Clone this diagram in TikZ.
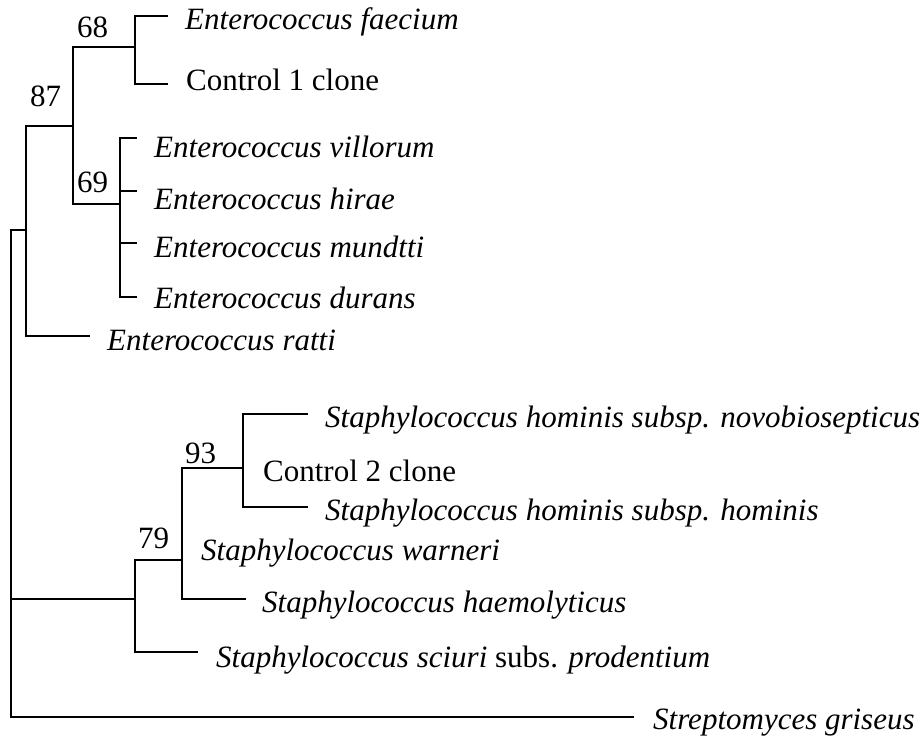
\documentclass[tikz,border=0pt]{standalone}
\usepackage{fontspec}
\setmainfont{Liberation Serif}
\begin{document}
\begin{tikzpicture}[x=1pt,y=-1pt,
  br/.style={line width=2pt,line join=miter,line cap=rect},
  lbl/.style={anchor=base west,inner sep=0pt,font=\fontsize{31}{36}\selectfont},
  bs/.style={anchor=base west,inner sep=0pt,font=\fontsize{31}{36}\selectfont}]
\useasboundingbox (0,0) rectangle (924,738);
% tree coordinates
\coordinate (R) at (11,230);
\coordinate (Rs) at (11,599);
\coordinate (Rb) at (11,717);
\coordinate (A) at (26,230);
\coordinate (Atop) at (26,126);
\coordinate (N6869) at (73,126);
\coordinate (N69b) at (73,204);
\coordinate (N68) at (135,47);
\coordinate (N69) at (120,204);
\coordinate (Lfae) at (167,16);
\coordinate (Lc1) at (167,84);
\coordinate (Lvil) at (136,138);
\coordinate (Lhir) at (136,191);
\coordinate (Lmun) at (136,243);
\coordinate (Ldur) at (136,297);
\coordinate (Lrat) at (89,336);
\coordinate (N79) at (135,599);
\coordinate (N182) at (182,560);
\coordinate (N93) at (243,468);
\coordinate (Lnov) at (307,414);
\coordinate (Lhom) at (307,507);
\coordinate (Lhae) at (245,599);
\coordinate (Lsci) at (197,652);
\coordinate (Lstr) at (633,717);
% branches
\draw[br] (Lstr) -- (Rb) -- (R) -- (A);
\draw[br] (Lrat) -| (Atop) -- (N6869);
\draw[br] (N68) -| (N69b) -- (N69);
\draw[br] (Lfae) -| (N68) |- (Lc1);
\draw[br] (Lvil) -| (N69) |- (Ldur);
\draw[br] (Lhir) -- (Lhir -| N69);
\draw[br] (Lmun) -- (Lmun -| N69);
\draw[br] (Rs) -- (N79);
\draw[br] (N182) -| (N79) |- (Lsci);
\draw[br] (N93) -| (N182) |- (Lhae);
\draw[br] (Lnov) -| (N93) |- (Lhom);
% bootstrap values
\node[bs] (b68) at (77,38) {68};
\node[bs] (b87) at (30,107) {87};
\node[bs] (b69) at (77,193) {69};
\node[bs] (b93) at (185,463) {93};
\node[bs] (b79) at (138,548) {79};
% taxa
\node[lbl] (tfae) at (185,30) {\textit{Enterococcus faecium}};
\node[lbl] (tc1) at (186,91) {Control 1 clone};
\node[lbl] (tvil) at (154,158) {\textit{Enterococcus villorum}};
\node[lbl] (thir) at (154,210) {\textit{Enterococcus hirae}};
\node[lbl] (tmun) at (154,258) {\textit{Enterococcus mundtti}};
\node[lbl] (tdur) at (154,308) {\textit{Enterococcus durans}};
\node[lbl] (trat) at (107,350) {\textit{Enterococcus ratti}};
\node[lbl] (tnov) at (325,427) {\textit{Staphylococcus hominis subsp. novobiosepticus}};
\node[lbl] (tc2) at (263,481) {Control 2 clone};
\node[lbl] (thom) at (325,520) {\textit{Staphylococcus hominis subsp. hominis}};
\node[lbl] (twar) at (201,560) {\textit{Staphylococcus warneri}};
\node[lbl] (thae) at (262,612) {\textit{Staphylococcus haemolyticus}};
\node[lbl] (tsci) at (216,667) {\textit{Staphylococcus sciuri} subs. \textit{prodentium}};
\node[lbl] (tstr) at (653,729) {\textit{Streptomyces griseus}};
\end{tikzpicture}
\end{document}
